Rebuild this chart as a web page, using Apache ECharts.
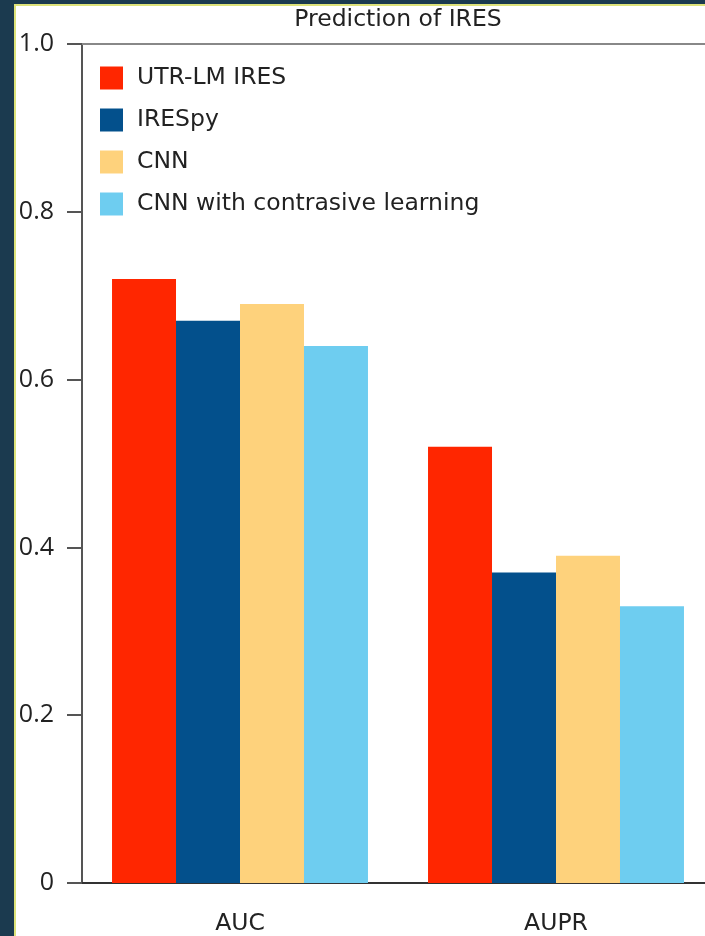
<!DOCTYPE html>
<html>
<head>
<meta charset="utf-8">
<script src="https://cdn.jsdelivr.net/npm/echarts@6/dist/echarts.min.js"></script>
<style>
  html, body { margin: 0; padding: 0; background: #ffffff; overflow: hidden; }
  #chart { width: 720px; height: 936px; }
</style>
</head>
<body>
<div id="chart"></div>
<script>
// Metrics on the x axis
const categories = ['AUC', 'AUPR'];

// Models compared
const seriesNames = ['UTR-LM IRES', 'IRESpy', 'CNN', 'CNN with contrasive learning'];

// Scores per model, in category order
const utrLmIres = [0.72, 0.52];
const iresPy = [0.67, 0.37];
const cnn = [0.69, 0.39];
const cnnContrastive = [0.64, 0.33];

// Y-axis ticks
const yTicks = [0, 0.2, 0.4, 0.6, 0.8, 1.0];

const colors = ['#ff2600', '#03508c', '#fed27c', '#6ecdf0'];
const seriesValues = [utrLmIres, iresPy, cnn, cnnContrastive];

const textFont = '"DejaVu Sans", sans-serif';
const numberFont = '"Open Sans", sans-serif';
const textColor = '#222222';

const chart = echarts.init(document.getElementById('chart'), null, { renderer: 'canvas' });

const option = {
  animation: false,
  backgroundColor: '#ffffff',
  title: {
    text: 'Prediction of IRES',
    left: 393,
    top: 3,
    textAlign: 'center',
    textStyle: { fontFamily: textFont, fontSize: 23.5, fontWeight: 'normal', color: textColor }
  },
  legend: {
    data: seriesNames,
    orient: 'vertical',
    left: 95,
    top: 61,
    icon: 'rect',
    itemWidth: 23,
    itemHeight: 23,
    itemGap: 18,
    textStyle: { fontFamily: textFont, fontSize: 23.5, color: textColor, padding: [0, 0, 0, 9] }
  },
  grid: { left: 82, top: 44, width: 632, bottom: 52, containLabel: false },
  xAxis: [
    {
      type: 'category',
      data: categories,
      boundaryGap: true,
      axisLine: { lineStyle: { color: '#333333', width: 2 } },
      axisTick: { alignWithLabel: true, length: 15, lineStyle: { color: '#555555', width: 2 } },
      axisLabel: { fontFamily: textFont, fontSize: 23.5, color: textColor, margin: 29 }
    },
    {
      // plain frame line along the top edge
      type: 'category',
      data: categories,
      position: 'top',
      axisLine: { show: true, lineStyle: { color: '#888888', width: 2 } },
      axisTick: { show: false },
      axisLabel: { show: false }
    }
  ],
  yAxis: {
    type: 'value',
    min: yTicks[0],
    max: yTicks[yTicks.length - 1],
    interval: 0.2,
    axisLine: { show: true, lineStyle: { color: '#555555', width: 2 } },
    axisTick: { show: true, inside: false, length: 15, lineStyle: { color: '#555555', width: 2 } },
    splitLine: { show: false },
    axisLabel: {
      fontFamily: numberFont, fontSize: 25, color: textColor, margin: 28,
      formatter: v => (v === 0 ? '0' : v.toFixed(1))
    }
  },
  series: seriesNames.map((name, i) => ({
    name,
    type: 'bar',
    data: seriesValues[i],
    barGap: '0%',
    barCategoryGap: '19%',
    itemStyle: { color: colors[i] }
  })),
  graphic: [
    { type: 'rect', left: 0, top: 0, shape: { width: 14, height: 936 }, style: { fill: '#1b3a4f' }, z: 100 },
    { type: 'rect', left: 0, top: 0, shape: { width: 720, height: 4 }, style: { fill: '#1b3a4f' }, z: 100 },
    { type: 'rect', left: 14, top: 4, shape: { width: 2, height: 932 }, style: { fill: '#dde27a' }, z: 100 },
    { type: 'rect', left: 14, top: 4, shape: { width: 706, height: 2 }, style: { fill: '#dde27a' }, z: 100 }
  ]
};

chart.setOption(option);
</script>
</body>
</html>
